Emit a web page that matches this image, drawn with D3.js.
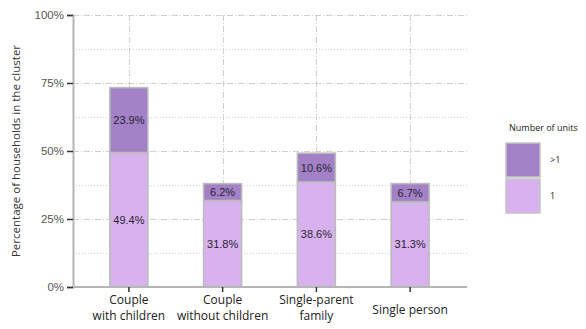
<!DOCTYPE html>
<html>
<head>
<meta charset="utf-8">
<script src="https://cdn.jsdelivr.net/npm/d3@7"></script>
<style>
  html, body { margin: 0; padding: 0; background: #fff; }
  svg { display: block; font-family: "Open Sans", "Noto Sans", sans-serif; }
</style>
</head>
<body>
<svg id="chart" width="586" height="329"></svg>
<script>
// Household types and the share of households, split by number of units
const categories = ["Couple\nwith children", "Couple\nwithout children", "Single-parent\nfamily", "Single person"];
const oneUnit = [49.4, 31.8, 38.6, 31.3];
const moreUnits = [23.9, 6.2, 10.6, 6.7];
const yTicks = [0, 25, 50, 75, 100];
const seriesNames = ["1", ">1"];
const seriesColors = ["#d8b2ef", "#a281c6"];

const svg = d3.select("#chart");
const plot = { left: 73, right: 467, top: 15, bottom: 287 };

const x = d3.scaleBand()
  .domain(categories)
  .range([82, 457])
  .paddingInner(0.595)
  .paddingOuter(0.2975);

const y = d3.scaleLinear().domain([0, 100]).range([plot.bottom, plot.top]);

// Minor horizontal grid (dotted)
const minor = d3.range(12.5, 100, 25);
svg.append("g").selectAll("line").data(minor).join("line")
  .attr("x1", plot.left).attr("x2", plot.right)
  .attr("y1", d => y(d) + 0.5).attr("y2", d => y(d) + 0.5)
  .attr("stroke", "#cfcfcf").attr("stroke-width", 1)
  .attr("stroke-dasharray", "1,2");

// Major horizontal grid (dash-dot)
svg.append("g").selectAll("line").data(yTicks.filter(d => d > 0)).join("line")
  .attr("x1", plot.left).attr("x2", plot.right)
  .attr("y1", d => y(d) + 0.5).attr("y2", d => y(d) + 0.5)
  .attr("stroke", "#cfcfcf").attr("stroke-width", 1)
  .attr("stroke-dasharray", "6,2,1,2");

// Vertical grid at category centres
svg.append("g").selectAll("line").data(categories).join("line")
  .attr("x1", d => Math.round(x(d) + x.bandwidth() / 2) + 0.5)
  .attr("x2", d => Math.round(x(d) + x.bandwidth() / 2) + 0.5)
  .attr("y1", plot.top).attr("y2", plot.bottom)
  .attr("stroke", "#cfcfcf").attr("stroke-width", 1)
  .attr("stroke-dasharray", "6,2,1,2");

// Stacked bars
const rows = categories.map((c, i) => ({ cat: c, "1": oneUnit[i], ">1": moreUnits[i] }));
const stacked = d3.stack().keys(seriesNames)(rows);

const layers = svg.append("g").selectAll("g").data(stacked).join("g")
  .attr("fill", (d, i) => seriesColors[i]);

layers.selectAll("rect").data(d => d).join("rect")
  .attr("x", d => x(d.data.cat))
  .attr("y", d => y(d[1]))
  .attr("width", x.bandwidth())
  .attr("height", d => y(d[0]) - y(d[1]))
  .attr("stroke", "#bcbcbc")
  .attr("stroke-width", 1.6);

// Value labels in segments
layers.selectAll("text").data(d => d).join("text")
  .attr("x", d => x(d.data.cat) + x.bandwidth() / 2)
  .attr("y", d => y((d[0] + d[1]) / 2))
  .attr("dy", "0.36em")
  .attr("text-anchor", "middle")
  .attr("fill", "#2b2233")
  .attr("font-family", "Liberation Sans, Arial, sans-serif")
  .attr("font-size", 11)
  .text(d => (d[1] - d[0]).toFixed(1) + "%");

// Y axis
const yAxis = svg.append("g").attr("transform", `translate(${plot.left},0)`)
  .call(d3.axisLeft(y).tickValues(yTicks).tickFormat(d => d + "%").tickSize(6).tickPadding(3));
yAxis.select(".domain").attr("stroke", "#b5b5b5").attr("stroke-width", 2);
yAxis.selectAll(".tick line").attr("stroke", "#333").attr("stroke-width", 1.5);
yAxis.selectAll(".tick text").attr("fill", "#555").attr("font-size", 11.5)
  .attr("font-family", "Liberation Sans, Arial, sans-serif");

// X axis
const xAxis = svg.append("g").attr("transform", `translate(0,${plot.bottom})`)
  .call(d3.axisBottom(x).tickSize(5).tickFormat(""));
xAxis.select(".domain").attr("d", `M${plot.left},0H${plot.right}`)
  .attr("stroke", "#b5b5b5").attr("stroke-width", 2);
xAxis.selectAll(".tick line").attr("stroke", "#333").attr("stroke-width", 1.5);

svg.append("g").selectAll("text").data(categories).join("text")
  .attr("x", d => x(d) + x.bandwidth() / 2)
  .attr("y", d => d.includes("\n") ? 304 : 314)
  .attr("text-anchor", "middle")
  .attr("fill", "#222")
  .attr("font-size", 12)
  .each(function(d) {
    d.split("\n").forEach((line, i) => {
      d3.select(this).append("tspan")
        .attr("x", x(d) + x.bandwidth() / 2)
        .attr("dy", i === 0 ? 0 : 16)
        .text(line);
    });
  });

// Y axis title
svg.append("text")
  .attr("transform", `translate(20,${(plot.top + plot.bottom) / 2}) rotate(-90)`)
  .attr("text-anchor", "middle")
  .attr("fill", "#333")
  .attr("font-size", 11.5)
  .text("Percentage of households in the cluster");

// Legend
const legend = svg.append("g");
legend.append("text").attr("x", 509).attr("y", 131)
  .attr("font-size", 9).attr("fill", "#222").text("Number of units");
const legendItems = [">1", "1"];
legendItems.forEach((name, i) => {
  const ci = seriesNames.indexOf(name);
  legend.append("rect")
    .attr("x", 506).attr("y", 143 + i * 36)
    .attr("width", 34).attr("height", 34)
    .attr("fill", seriesColors[ci])
    .attr("stroke", "#c4c4c4").attr("stroke-width", 1.5);
  legend.append("text")
    .attr("x", 550).attr("y", 160 + i * 36).attr("dy", "0.35em")
    .attr("font-size", 9).attr("fill", "#222").text(name);
});
</script>
</body>
</html>
